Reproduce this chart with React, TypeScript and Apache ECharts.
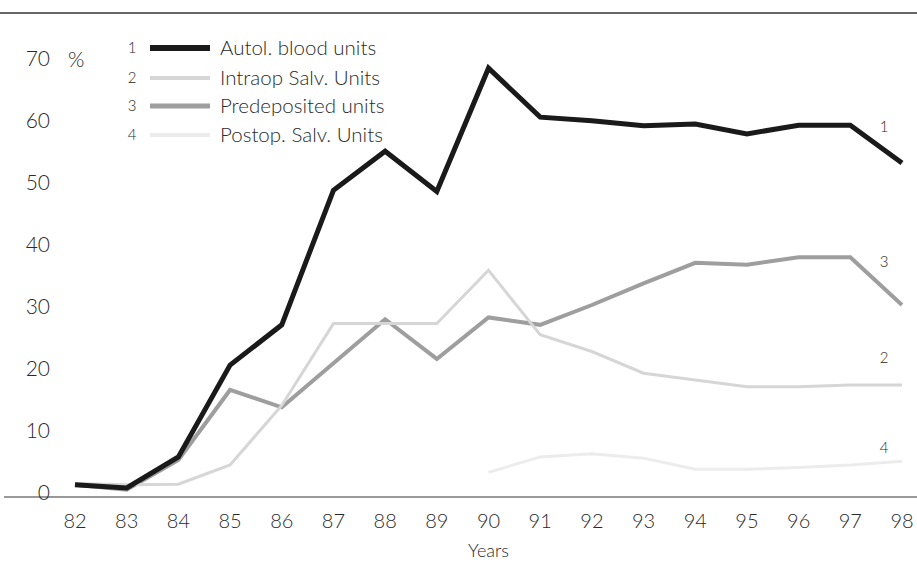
import React, { useEffect, useRef } from "react";
import * as echarts from "echarts";

const years = ["82", "83", "84", "85", "86", "87", "88", "89", "90", "91", "92", "93", "94", "95", "96", "97", "98"];
const autolBlood = [1, 0.5, 5.5, 20.3, 26.8, 48.5, 54.8, 48.3, 68.2, 60.3, 59.7, 58.9, 59.2, 57.6, 59, 59, 52.9];
const intraopSalv = [1.2, 1, 1.1, 4.2, 13.8, 27, 27, 27, 35.6, 25.2, 22.5, 19, 17.9, 16.8, 16.8, 17.1, 17.1];
const predeposited = [1, 0.2, 5, 16.3, 13.5, 20.6, 27.7, 21.3, 28, 26.8, 30, 33.5, 36.8, 36.5, 37.7, 37.7, 30];
const postopSalv = [null, null, null, null, null, null, null, null, 3, 5.5, 6, 5.3, 3.5, 3.5, 3.8, 4.2, 4.8];

const seriesNames = ["Autol. blood units", "Intraop Salv. Units", "Predeposited units", "Postop. Salv. Units"];
const seriesNumbers = ["1", "2", "3", "4"];
const seriesColors = ["#1a1a1a", "#d6d6d6", "#9e9e9e", "#ececec"];
const seriesWidths = [5, 3, 4, 3];
const yMin = 0;
const yMax = 70;
const yInterval = 10;

const FONT = "Lato, 'Open Sans', sans-serif";
const TXT = "#2a2a2a";

export default function App() {
  const ref = useRef<HTMLDivElement>(null);
  useEffect(() => {
    document.body.style.margin = "0";
    document.body.style.overflow = "hidden";
    if (!ref.current) return;
    const chart = echarts.init(ref.current, null, { renderer: "svg" });
    const data = [autolBlood, intraopSalv, predeposited, postopSalv];
    const legendRowsY = [47, 77, 105, 134];
    const endLabels = [
      { t: "1", y: 126 },
      { t: "3", y: 261 },
      { t: "2", y: 357 },
      { t: "4", y: 447 },
    ];
    const graphic: any[] = [
      { type: "line", shape: { x1: 0, y1: 13, x2: 917, y2: 13 }, style: { stroke: "#666", lineWidth: 2 } },
      { type: "line", shape: { x1: 4, y1: 497, x2: 917, y2: 497 }, style: { stroke: "#777", lineWidth: 1.5 } },
      { type: "text", x: 68, y: 58, style: { text: "%", font: `300 21px ${FONT}`, fill: TXT, verticalAlign: "middle" } },
    ];
    seriesNames.forEach((n, i) => {
      const y = legendRowsY[i];
      graphic.push({ type: "text", x: 132, y, style: { text: seriesNumbers[i], font: `300 15px ${FONT}`, fill: TXT, align: "center", verticalAlign: "middle" } });
      graphic.push({ type: "line", shape: { x1: 150, y1: y + 1, x2: 210, y2: y + 1 }, style: { stroke: seriesColors[i], lineWidth: seriesWidths[i] + 1 } });
      graphic.push({ type: "text", x: 220, y, style: { text: n, font: `300 20.5px ${FONT}`, fill: TXT, verticalAlign: "middle" } });
    });
    endLabels.forEach((l) => {
      graphic.push({ type: "text", x: 884, y: l.y, style: { text: l.t, font: `300 15px ${FONT}`, fill: TXT, align: "center", verticalAlign: "middle" } });
    });
    chart.setOption({
      animation: false,
      backgroundColor: "#fff",
      grid: { left: 75, right: 15, top: 57, bottom: 77, containLabel: false },
      xAxis: {
        type: "category",
        data: years,
        boundaryGap: false,
        axisLine: { show: false },
        axisTick: { show: false },
        axisLabel: { margin: 19, fontSize: 20, fontFamily: FONT, fontWeight: 300, color: TXT },
        name: "Years",
        nameLocation: "middle",
        nameGap: 50,
        nameTextStyle: { fontSize: 18, fontFamily: FONT, fontWeight: 300, color: TXT },
      },
      yAxis: {
        type: "value",
        min: yMin,
        max: yMax,
        interval: yInterval,
        axisLine: { show: false },
        axisTick: { show: false },
        splitLine: { show: false },
        axisLabel: { margin: 25, fontSize: 21, fontFamily: FONT, fontWeight: 300, color: TXT },
      },
      series: data.map((d, i) => ({
        name: seriesNames[i],
        type: "line",
        data: d,
        symbol: "none",
        z: 10 - i,
        lineStyle: { color: seriesColors[i], width: seriesWidths[i], join: "miter" },
      })),
      graphic,
    });
    return () => chart.dispose();
  }, []);
  return <div ref={ref} style={{ position: "absolute", left: 0, top: 0, width: 917, height: 568 }} />;
}
